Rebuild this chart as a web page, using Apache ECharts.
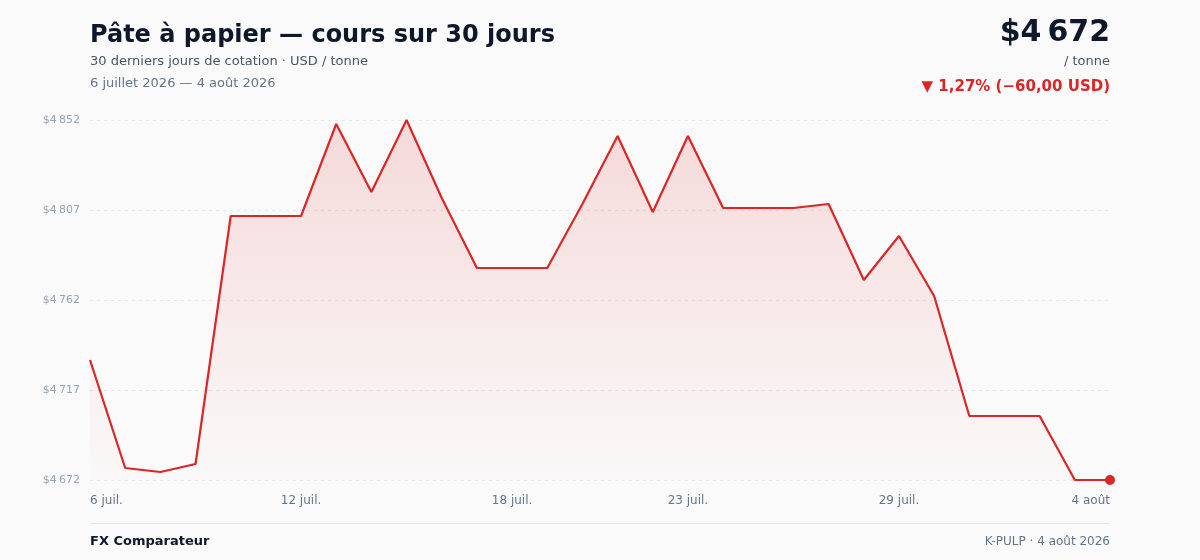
<!DOCTYPE html>
<html><head><meta charset="utf-8">
<script src="https://cdn.jsdelivr.net/npm/echarts@6/dist/echarts.min.js"></script>
<style>html,body{margin:0;padding:0;background:#fafafa;}#c{width:1200px;height:560px;}</style>
</head><body><div id="c"></div>
<script>
const days = ['6 juil.','7 juil.','8 juil.','9 juil.','10 juil.','11 juil.','12 juil.','13 juil.','14 juil.','15 juil.',
  '16 juil.','17 juil.','18 juil.','19 juil.','20 juil.','21 juil.','22 juil.','23 juil.','24 juil.','25 juil.',
  '26 juil.','27 juil.','28 juil.','29 juil.','30 juil.','31 juil.','1 août','2 août','3 août','4 août'];
const prices = [4732,4678,4676,4680,4804,4804,4804,4850,4816,4852,
  4813,4778,4778,4778,4810,4844,4806,4844,4808,4808,
  4808,4810,4772,4794,4764,4704,4704,4704,4672,4672];
const xTickIdx = [0,6,12,17,23,29];
const yTicks = [4672,4717,4762,4807,4852];

const FONT = 'DejaVu Sans';
const fmt = v => '$' + String(Math.floor(v/1000)) + '\u202F' + String(v%1000).padStart(3,'0');
const T = (text, pos, size, weight, color) => Object.assign({text, padding:0,
  textStyle:{fontFamily:FONT,fontSize:size,fontWeight:weight,color}}, pos);
const chart = echarts.init(document.getElementById('c'));
chart.setOption({
  backgroundColor:'#fafafa',
  animation:false,
  textStyle:{fontFamily:FONT},
  title:[
    T('Pâte à papier — cours sur 30 jours', {left:90, top:24}, 24, 'bold', '#0f172a'),
    T('30 derniers jours de cotation · USD / tonne', {left:90, top:55}, 13, 'normal', '#475569'),
    T('6 juillet 2026 — 4 août 2026', {left:90, top:77}, 13, 'normal', '#64748b'),
    T(fmt(prices[prices.length-1]), {right:90, top:18}, 30, 'bold', '#0f172a'),
    T('/ tonne', {right:90, top:55}, 13, 'normal', '#475569'),
    T('▼ 1,27% (−60,00 USD)', {right:90, top:80}, 15, 'bold', '#dc2626'),
    T('FX Comparateur', {left:90, top:535}, 13, 'bold', '#0f172a'),
    T('K-PULP · 4 août 2026', {right:90, top:536}, 12, 'normal', '#64748b')
  ],
  graphic:[{type:'line', shape:{x1:90,y1:523.5,x2:1110,y2:523.5}, style:{stroke:'#e5e7eb',lineWidth:1}}],
  grid:{left:90,right:90,top:120,bottom:80},
  xAxis:{type:'category', data:days, boundaryGap:false,
    axisLine:{show:false}, axisTick:{show:false},
    axisLabel:{interval:(i)=>xTickIdx.includes(i), color:'#64748b', fontSize:12, fontFamily:FONT, margin:15,
      alignMinLabel:'left', alignMaxLabel:'right'},
    splitLine:{show:false}},
  yAxis:{type:'value', min:yTicks[0], max:yTicks[yTicks.length-1], interval:yTicks[1]-yTicks[0],
    axisLine:{show:false}, axisTick:{show:false},
    axisLabel:{formatter:fmt, color:'#94a3b8', fontSize:11, fontFamily:FONT, margin:10},
    splitLine:{lineStyle:{color:'#e5e7eb', type:[3,4], width:1}}},
  series:[{type:'line', data:prices, symbol:'none', lineStyle:{color:'#dc2626',width:2.2},
    areaStyle:{color:new echarts.graphic.LinearGradient(0,0,0,1,[{offset:0,color:'rgba(220,38,38,0.22)'},{offset:1,color:'rgba(220,38,38,0.01)'}])},
    markPoint:{symbol:'circle', symbolSize:10, itemStyle:{color:'#dc2626'}, label:{show:false},
      data:[{coord:[prices.length-1, prices[prices.length-1]]}]}
  }]
});
</script></body></html>
